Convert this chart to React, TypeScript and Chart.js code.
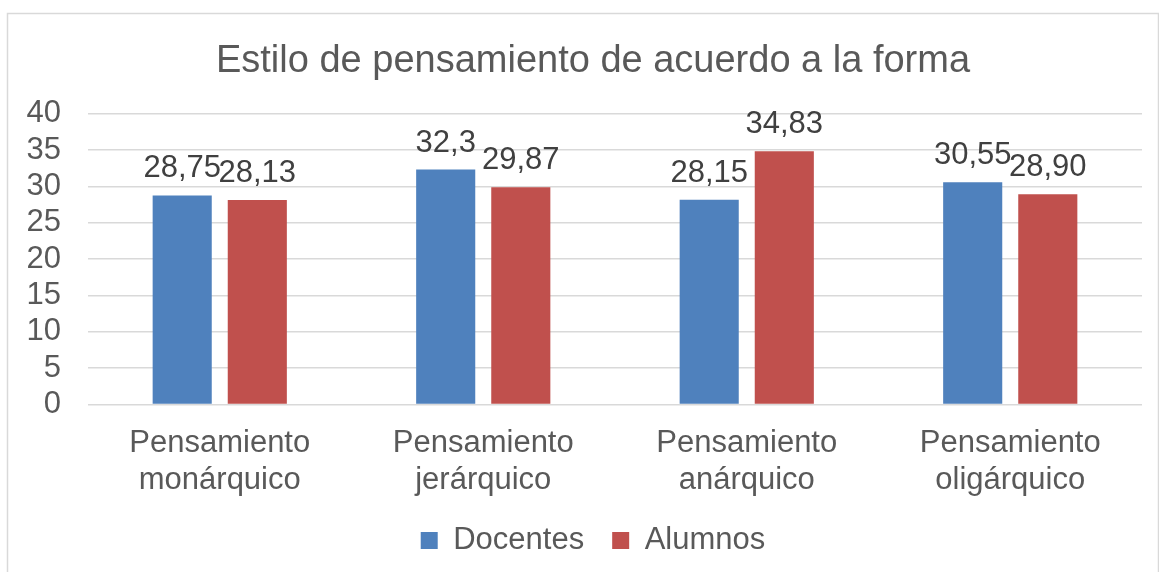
import React, { useEffect, useRef } from "react";
import { Chart, registerables } from "chart.js";

Chart.register(...registerables);

const categories: string[][] = [
  ["Pensamiento", "monárquico"],
  ["Pensamiento", "jerárquico"],
  ["Pensamiento", "anárquico"],
  ["Pensamiento", "oligárquico"],
];
const docentes = [28.75, 32.3, 28.15, 30.55];
const alumnos = [28.13, 29.87, 34.83, 28.9];
const docentesLabels = ["28,75", "32,3", "28,15", "30,55"];
const alumnosLabels = ["28,13", "29,87", "34,83", "28,90"];
const yTicks = [0, 5, 10, 15, 20, 25, 30, 35, 40];

const FONT = "'Liberation Sans', Arial, sans-serif";

const frame = {
  id: "frame",
  beforeDraw(chart: any) {
    const ctx = chart.ctx;
    ctx.save();
    ctx.fillStyle = "#ffffff";
    ctx.fillRect(0, 0, chart.width, chart.height);
    ctx.strokeStyle = "#d9d9d9";
    ctx.lineWidth = 1.5;
    ctx.strokeRect(7.5, 13.5, 1151, 700);
    ctx.restore();
  },
};

const dataLabels = {
  id: "dataLabels",
  afterDatasetsDraw(chart: any) {
    const ctx = chart.ctx;
    const all = [docentesLabels, alumnosLabels];
    ctx.save();
    ctx.font = `31px ${FONT}`;
    ctx.fillStyle = "#404040";
    ctx.textAlign = "center";
    ctx.textBaseline = "alphabetic";
    chart.data.datasets.forEach((_ds: any, di: number) => {
      const meta = chart.getDatasetMeta(di);
      meta.data.forEach((bar: any, i: number) => {
        ctx.fillText(all[di][i], bar.x, bar.y - 18);
      });
    });
    ctx.restore();
  },
};

export default function App() {
  const ref = useRef<HTMLCanvasElement | null>(null);
  useEffect(() => {
    if (!ref.current) return;
    const chart = new Chart(ref.current, {
      type: "bar",
      data: {
        labels: categories,
        datasets: [
          {
            label: "Docentes",
            data: docentes,
            backgroundColor: "#4f81bd",
            categoryPercentage: 0.57,
            barPercentage: 0.787,
          },
          {
            label: "Alumnos",
            data: alumnos,
            backgroundColor: "#c0504d",
            categoryPercentage: 0.57,
            barPercentage: 0.787,
          },
        ],
      },
      options: {
        responsive: false,
        animation: false,
        layout: { padding: { left: 26, right: -1, top: 14, bottom: 6 } },
        plugins: {
          title: {
            display: true,
            text: "Estilo de pensamiento de acuerdo a la forma",
            color: "#595959",
            font: { family: FONT, size: 38, weight: "normal" },
            padding: { top: 25, bottom: 29 },
          },
          legend: {
            position: "bottom",
            labels: {
              color: "#595959",
              font: { family: FONT, size: 31 },
              boxWidth: 17,
              boxHeight: 17,
              padding: 28,
            },
          },
          tooltip: { enabled: false },
        },
        scales: {
          x: {
            grid: { display: false },
            border: { display: false },
            afterFit(axis: any) {
              axis.paddingLeft = 0;
              axis.paddingRight = 0;
              axis.height = axis.height - 14;
            },
            ticks: {
              color: "#595959",
              font: { family: FONT, size: 31 },
              padding: 12,
              maxRotation: 0,
              autoSkip: false,
            },
          },
          y: {
            min: 0,
            max: 40,
            afterBuildTicks(axis: any) {
              axis.ticks = yTicks.map((v) => ({ value: v }));
            },
            afterFit(axis: any) {
              axis.width = 62;
              axis.paddingLeft = 0;
              axis.paddingRight = 0;
            },
            grid: { color: "#d9d9d9", lineWidth: 1.5, drawTicks: false },
            border: { display: false },
            ticks: {
              color: "#595959",
              font: { family: FONT, size: 31 },
              padding: 27,
              autoSkip: false,
            },
          },
          yRight: {
            position: "right",
            display: true,
            min: 0,
            max: 40,
            grid: { display: false, drawTicks: false },
            border: { display: false },
            ticks: { display: false },
            afterFit(axis: any) {
              axis.width = 18;
              axis.paddingLeft = 0;
              axis.paddingRight = 0;
            },
          },
        },
      },
      plugins: [frame, dataLabels],
    });
    return () => chart.destroy();
  }, []);
  return (
    <div style={{ position: "absolute", left: 0, top: 0, width: 1159, height: 572 }}>
      <canvas ref={ref} width={1159} height={572} />
    </div>
  );
}
